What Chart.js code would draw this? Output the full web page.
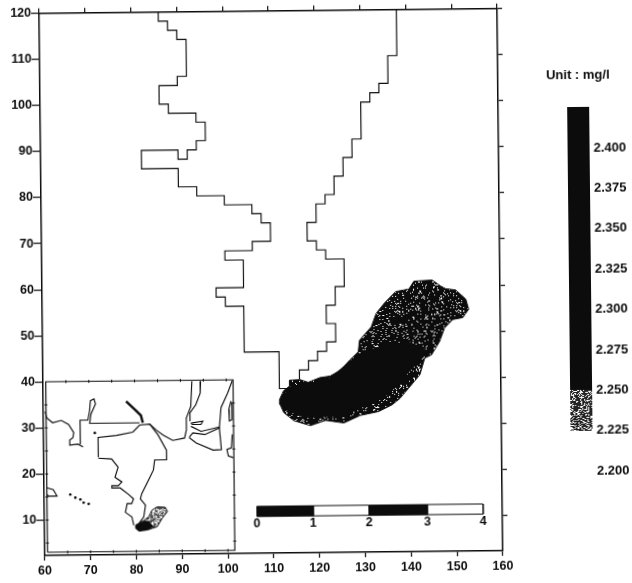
<!DOCTYPE html>
<html>
<head>
<meta charset="utf-8">
<script src="https://cdn.jsdelivr.net/npm/chart.js@4"></script>
<style>
  html, body { margin: 0; padding: 0; background: #fff; overflow: hidden; }
  /* the source is a slightly crooked scan, so the whole sheet is turned a little */
  #sheet { position: absolute; left: 0; top: 0; width: 632px; height: 583px;
           transform-origin: 0 0; transform: rotate(-0.6deg); filter: blur(0.3px); }
  #mapChart { position: absolute; left: 0; top: 0; }
  #barChart { position: absolute; left: 540px; top: 60px; }
</style>
</head>
<body>
<div id="sheet">
  <canvas id="mapChart" width="540" height="583"></canvas>
  <canvas id="barChart" width="92" height="440"></canvas>
</div>
<script>
const xRange = [60, 160];
const yRange = [2.3, 120];

// grid cell outline of the model domain
const westBoundary = [[86,120],[86,118],[88,118],[88,116],[90,116],[90,114],[92,114],[92,106],[90,106],[90,104],[86,104],[86,100],[88,100],[88,98],[94,98],[94,96],[96,96],[96,92],[94,92],[94,90],[92,90],[92,88],[90,88],[90,90],[82,90],[82,86],[90,86],[90,82],[94,82],[94,80],[100,80],[100,78],[106,78],[106,76],[108,76],[108,74],[110,74],[110,70],[106,70],[106,68],[100,68],[100,66],[104,66],[104,60],[98,60],[98,58],[100,58],[100,56],[104,56],[104,46],[111.6,46],[111.6,38],[114,38]];
const eastBoundary = [[138,120],[138,110],[136,110],[136,104],[134,104],[134,102],[132,102],[132,100],[130,100],[130,92],[128,92],[128,88],[126,88],[126,84],[124,84],[124,80],[122,80],[122,78],[120,78],[120,74],[118,74],[118,70],[120,70],[120,68],[122,68],[122,66],[126,66],[126,60],[124,60],[124,56],[122,56],[122,52],[124,52],[124,48],[122,48],[122,46],[120,46],[120,44],[118,44],[118,42],[116,42],[116,40]];

// plume, outer edge and the solid core
const plumeOuter = [[111.6,35.6],[112.5,37.5],[113.8,38.5],[113.8,39.8],[116.1,39.9],[117.9,39.3],[120.5,40.3],[122.7,40.6],[124.9,41.8],[127,44],[128.9,45.8],[129.2,48.3],[131.8,51.2],[132.9,54.1],[134.7,56.3],[137.2,58.8],[140.1,59.3],[141.2,61],[145.2,61.2],[147,59.9],[148.1,59.3],[150.3,59],[152.5,57],[153.1,54.8],[151.8,53],[149.6,52.6],[147.8,50.8],[146.7,47.9],[144.9,45],[143.4,44.3],[142.3,40.7],[139.8,37.8],[137.9,35.6],[136.1,34.2],[133.2,32.8],[129.2,32],[125.6,30.4],[121.6,31],[118.3,29.9],[114.7,31],[112.5,32.8],[111.7,34.6],[111.6,35.6]];
const plumeCore = [[111.7,35.6],[113.9,38.5],[117.6,38.9],[122.7,40.3],[127,43.8],[128.9,45.4],[134.3,47.2],[140.1,47.9],[143.8,46.1],[142.7,44],[140.1,41.4],[137.2,38.2],[134.3,35.6],[129.2,33.5],[125.6,31.7],[121.2,31.7],[116.8,31.7],[113.2,33.1],[111.7,35.6]];

// inset map
const insetFrame = [[60.6,3],[60.6,40],[101.5,40],[101.5,3],[60.6,3]];
const insetCoastWest = [[60.4,33.6],[60.7,32.2],[62,31.1],[63.9,31.6],[65.5,30.7],[66.6,28.9],[66.4,27.8],[65.7,27.3],[65.7,26.2],[67.5,26.4],[68.6,25.8]];
const insetBranch = [[68,26.4],[68,31.6],[69.7,31.6],[70.1,33.6],[70.3,35.8],[71.1,36.2],[71.4,35.1],[70.4,32.9],[70.1,30.9],[81,30.9]];
const insetRiver = [[78.1,35.6],[80.2,33.6],[81.3,32.5],[81.7,30.9]];
const insetNorth = [[71.9,23.5],[71.9,27.8],[75.9,28.2],[79.5,28.9],[81,30.4],[83.2,30.6],[84.6,29.3],[86.1,28.2],[88.2,27],[90.8,27.5],[91.2,29.3],[91.2,31.8],[92.2,34.3],[92.5,39.8]];
const insetEastCoast = [[83.2,30.6],[85,28.2],[86.8,24.9],[86.8,22.8],[84.2,22.8],[83.9,20.6],[82.8,18.4],[81.3,15.5],[81,14.4],[82.1,13],[81.7,10.5],[80.6,9]];
const insetWestCoast = [[71.9,23.3],[74.8,23.1],[76.2,21.3],[75.5,19.1],[77,18.1],[76.2,17.3],[74.8,17.3],[74.8,16.8],[76.6,16.8],[78.4,15.4],[79.5,14.4],[79.1,13.4],[78.1,13.4],[77.7,11.5],[79.1,10.5],[79.5,8.7]];
const insetRight1 = [[94.4,39.8],[94.3,37.2],[93.3,34.7],[92,32.9],[92,31.1]];
const insetIsland = [[92.2,30.7],[94.8,31.1],[94.4,30.4],[92.5,30.4],[92.2,30.7]];
const insetBay = [[91.9,27.8],[92.6,28.6],[95.2,28.2],[98.4,29.6],[98.8,24.9],[97,24.8],[93.3,26.4],[91.9,27.5],[91.9,27.8]];
const insetBayLine = [[92.2,30],[94.4,28.9],[98.4,29.8]];
const insetRight2 = [[101.3,39.8],[100.3,37.2],[98.8,34],[98.4,29.6]];
const insetRight3 = [[101,35.4],[100.5,33.6],[100.6,31.1],[101.2,31.4],[101.2,35.1]];
const insetRight4 = [[101.2,28.2],[101,25.3],[100,24.9],[100.3,23.5],[101.4,23.1]];
const insetSmallCoast = [[60.6,17],[62,16.6],[62.8,15.2],[61,15.2],[60.6,15.5]];
const insetIslands = [[65.7,15.5],[66.8,14.8],[67.9,14.4],[68.6,13.7],[69.7,13.4],[71.2,28.8]];
const insetPlume = [[79.9,8.7],[81.7,9.7],[82.8,10.5],[83.5,11.9],[84.6,12.6],[86.4,12.5],[86.9,11.6],[85.7,10.1],[84.6,8.3],[82.4,7.6],[80.6,7.4],[79.9,8],[79.9,8.7]];
const insetPlumeCore = [[79.9,8.7],[82.1,9.7],[82.8,9.4],[83.9,8.3],[82.4,7.6],[80.6,7.4],[79.9,8],[79.9,8.7]];
const insetTicksTop = [65,70,75,80,85,90,95,100];
const insetTicksSide = [5,10,15,20,25,30,35];

// distance bar
const scaleBarX = [106.4, 118.7, 130.9, 143.6, 155.8];
const scaleBarLabels = ["0", "1", "2", "3", "4"];
const scaleBarTop = 12.5;
const scaleBarBottom = 10.3;

// colour key
const keyTicks = [2.2, 2.225, 2.25, 2.275, 2.3, 2.325, 2.35, 2.375, 2.4];
const keyLow = [2.225, 2.25];
const keyHigh = [2.25, 2.4255];
const keyUnit = "Unit : mg/l";

const ink = "#0c0c0c";
const labelFont = { family: '"Liberation Sans"', size: 12.5, weight: "bold" };

// Speckled fill for the patchy parts of the scan
function speckle(percent, color) {
  const size = 61;
  const c = document.createElement("canvas");
  c.width = size;
  c.height = size;
  const g = c.getContext("2d");
  g.fillStyle = color;
  g.fillRect(0, 0, size, size);
  g.fillStyle = "#fff";
  let seed = 12345;
  for (let i = 0; i < size; i++) {
    for (let j = 0; j < size; j++) {
      seed = (seed * 69069 + 12345) % 2147483648;
      if ((seed >> 8) % 100 < percent) g.fillRect(i, j, 1, 1);
    }
  }
  return g.createPattern(c, "repeat");
}

const toPoints = (pairs) => pairs.map(([x, y]) => ({ x: x, y: y }));
const line = (pairs, width) => ({
  data: toPoints(pairs),
  showLine: true,
  borderColor: ink,
  borderWidth: width || 1.15,
  pointRadius: 0,
  fill: false,
});
const shape = (pairs, fillStyle, width) => ({
  data: toPoints(pairs),
  showLine: true,
  borderColor: ink,
  borderWidth: width === undefined ? 1 : width,
  backgroundColor: fillStyle,
  pointRadius: 0,
  fill: "shape",
});
const smallTicks = (pairs, angle) => ({
  data: toPoints(pairs),
  pointStyle: "line",
  pointRadius: 1.5,
  pointRotation: angle,
  pointBorderColor: ink,
  pointBorderWidth: 1,
});
const barCell = (i) => [
  [scaleBarX[i], scaleBarBottom],
  [scaleBarX[i], scaleBarTop],
  [scaleBarX[i + 1], scaleBarTop],
  [scaleBarX[i + 1], scaleBarBottom],
  [scaleBarX[i], scaleBarBottom],
];

// Numbers under the distance bar
const scaleBarText = {
  id: "scaleBarText",
  afterDatasetsDraw(chart) {
    const ctx = chart.ctx;
    ctx.save();
    ctx.fillStyle = ink;
    ctx.font = 'bold 12.5px "Liberation Sans"';
    ctx.textAlign = "center";
    ctx.textBaseline = "top";
    scaleBarLabels.forEach((text, i) => {
      ctx.fillText(text, chart.scales.x.getPixelForValue(scaleBarX[i]), chart.scales.y.getPixelForValue(scaleBarBottom) + 1);
    });
    ctx.restore();
  },
};

// Unit text above the key, it is wider than the bar so an axis title would squeeze it
const keyUnitText = {
  id: "keyUnitText",
  afterDraw(chart) {
    const ctx = chart.ctx;
    const area = chart.chartArea;
    ctx.save();
    ctx.fillStyle = ink;
    ctx.font = 'bold 13px "Liberation Sans"';
    ctx.textAlign = "center";
    ctx.textBaseline = "middle";
    ctx.fillText(keyUnit, (area.left + area.right) / 2, area.top - 32);
    ctx.restore();
  },
};

const edgeAxis = (position, range, size, tickLength) => ({
  type: "linear",
  position: position,
  min: range[0],
  max: range[1],
  border: { color: ink, width: 1.5 },
  grid: { drawOnChartArea: false, color: ink, lineWidth: 1.2, tickLength: tickLength },
  ticks: { display: false, stepSize: 10, includeBounds: false, autoSkip: false },
  afterFit(scale) {
    if (scale.isHorizontal()) scale.height = size;
    else scale.width = size;
  },
});
const labelledAxis = (position, range, size, tickLength, padding) => {
  const axis = edgeAxis(position, range, size, tickLength);
  axis.ticks = { color: ink, font: labelFont, stepSize: 10, includeBounds: false, autoSkip: false, maxRotation: 0, padding: padding };
  return axis;
};

new Chart(document.getElementById("mapChart"), {
  type: "scatter",
  data: {
    datasets: [
      line(westBoundary),
      line(eastBoundary),
      shape(plumeCore, ink, 0),
      shape(plumeOuter, speckle(9, ink)),
      line(insetFrame),
      smallTicks(insetTicksTop.map((x) => [x, 40]), 90),
      smallTicks(insetTicksTop.map((x) => [x, 3]), 90),
      smallTicks(insetTicksSide.map((y) => [101.5, y]), 0),
      smallTicks(insetTicksSide.map((y) => [60.6, y]), 0),
      line(insetCoastWest),
      line(insetBranch),
      line(insetRiver, 2.4),
      line(insetNorth),
      line(insetEastCoast),
      line(insetWestCoast),
      line(insetRight1),
      line(insetIsland),
      line(insetBay),
      line(insetBayLine),
      line(insetRight2),
      line(insetRight3),
      line(insetRight4),
      line(insetSmallCoast),
      { data: toPoints(insetIslands), pointRadius: 1.3, pointBackgroundColor: ink, pointBorderWidth: 0 },
      shape(insetPlumeCore, ink, 0),
      shape(insetPlume, speckle(40, "#555")),
      shape(barCell(0), ink),
      shape(barCell(1), "#fff"),
      shape(barCell(2), ink),
      shape(barCell(3), "#fff"),
    ],
  },
  options: {
    responsive: false,
    animation: false,
    layout: { padding: { left: 0, right: 35, top: 0, bottom: 0 } },
    plugins: { legend: { display: false }, tooltip: { enabled: false } },
    scales: {
      x: labelledAxis("bottom", xRange, 27, 5, 3),
      y: labelledAxis("left", yRange, 39, 8, 0),
      xTop: edgeAxis("top", xRange, 13.7, 5),
      yRight: edgeAxis("right", yRange, 8, 5),
    },
  },
  plugins: [scaleBarText],
});

new Chart(document.getElementById("barChart"), {
  type: "bar",
  data: {
    labels: [""],
    datasets: [
      { data: [keyLow], backgroundColor: speckle(32, "#222"), barPercentage: 1, categoryPercentage: 1, grouped: false },
      { data: [keyHigh], backgroundColor: ink, barPercentage: 1, categoryPercentage: 1, grouped: false },
    ],
  },
  options: {
    responsive: false,
    animation: false,
    layout: { padding: { left: 26, bottom: 23, top: 53, right: 0 } },
    plugins: { legend: { display: false }, tooltip: { enabled: false } },
    scales: {
      x: { display: false },
      y: {
        position: "right",
        min: 2.2,
        max: 2.4255,
        grid: { display: false, drawTicks: false },
        border: { display: false },
        afterBuildTicks(scale) { scale.ticks = keyTicks.map((v) => ({ value: v })); },
        ticks: {
          color: ink,
          font: { family: '"Liberation Sans"', size: 13, weight: "bold" },
          padding: 4,
          callback: (v) => Number(v).toFixed(3),
        },
        afterFit(scale) { scale.width = 44; },
      },
    },
  },
  plugins: [keyUnitText],
});
</script>
</body>
</html>
